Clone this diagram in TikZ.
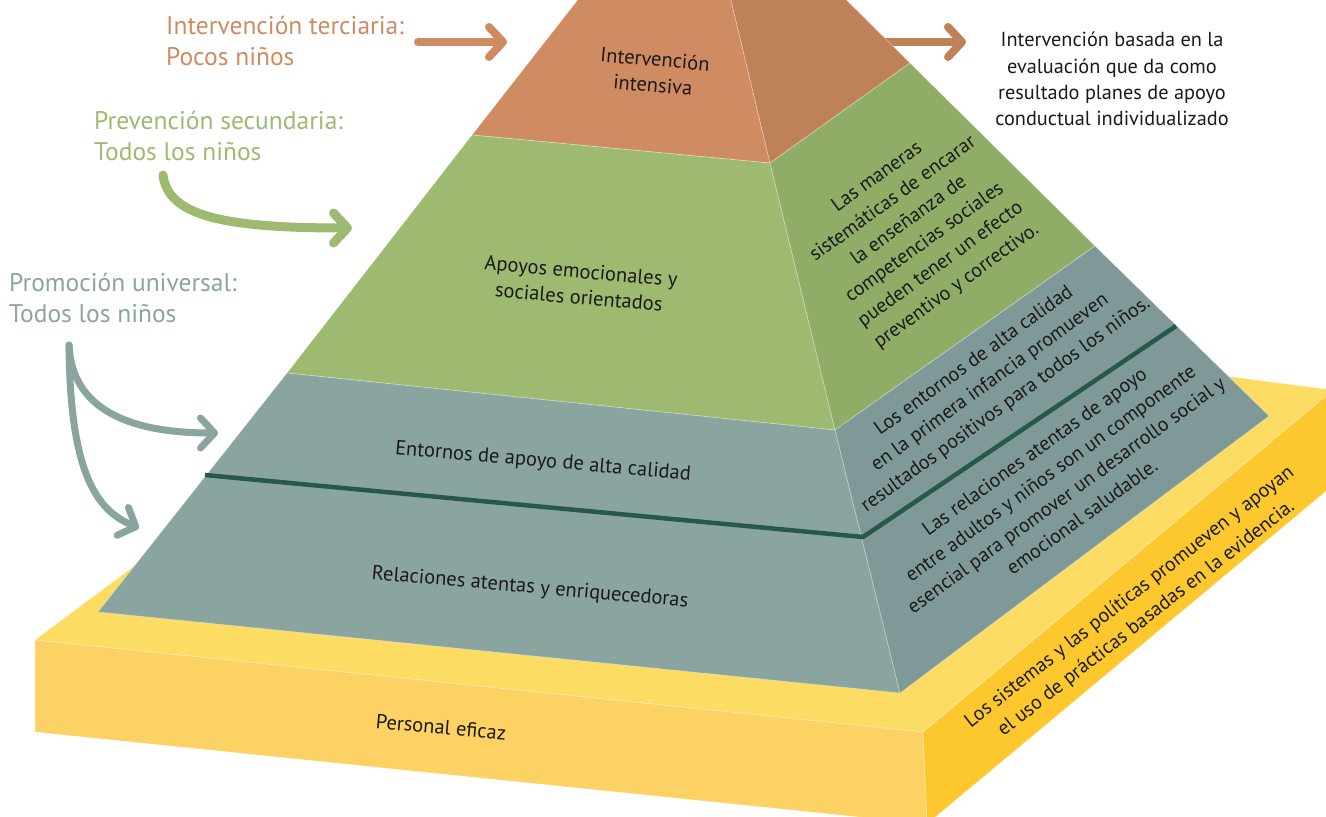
\documentclass[tikz,border=0pt]{standalone}
\usepackage{fontspec}
\setmainfont{PT Sans}
\usetikzlibrary{arrows.meta}

\definecolor{ochre}{HTML}{CF8B62}
\definecolor{ochredark}{HTML}{BF8158}
\definecolor{leaf}{HTML}{9EBA71}
\definecolor{leafdark}{HTML}{90AD67}
\definecolor{sage}{HTML}{8AA4A0}
\definecolor{sagedark}{HTML}{7F9998}
\definecolor{pine}{HTML}{27584A}
\definecolor{sand}{HTML}{FCDC62}
\definecolor{sandfront}{HTML}{FDD265}
\definecolor{sandside}{HTML}{FDC82E}
\definecolor{ink}{HTML}{1A1A1A}

\tikzset{
  face/.style={draw=white, draw opacity=0.35, line width=0.7pt, line join=round},
  curvearrow/.style={line cap=round, -{Straight Barb[length=14pt,width=30pt,round]}},
  tierlabel/.style={font=\fontsize{25.5}{31.5}\selectfont, align=left, anchor=west, inner sep=0pt},
  facetext/.style={font=\fontsize{20.5}{26}\selectfont, text=ink, align=center, inner sep=0pt},
  sidetext/.style={font=\fontsize{20}{27}\selectfont, text=ink, align=center, inner sep=0pt, rotate=36},
}

\begin{document}
\begin{tikzpicture}[x=1pt, y=-1pt]
    \useasboundingbox (0,0) rectangle (1326,817);
    \clip (0,0) rectangle (1326,817);

    % corners of the pyramid
    \coordinate (apex) at (695,-150);
    \coordinate (o1) at (472,135);
    \coordinate (o2) at (770,163);
    \coordinate (o3) at (910,63);
    \coordinate (g1) at (287,373);
    \coordinate (g2) at (835,430);
    \coordinate (g3) at (1095,246);
    \coordinate (t1) at (98,612);
    \coordinate (t2) at (900,693);
    \coordinate (t3) at (1269,416);
    \coordinate (d1) at (205,475);
    \coordinate (d2) at (863,537);
    \coordinate (d3) at (1176,326);

    % corners of the base
    \coordinate (b1) at (35,640);
    \coordinate (b2) at (923,732);
    \coordinate (b3) at (1333,390);
    \coordinate (b4) at (513,283);
    \coordinate (b5) at (35,732);
    \coordinate (b6) at (927,824);
    \coordinate (b7) at (1337,482);

    % arrow ends
    \coordinate (terA) at (418,42);
    \coordinate (terB) at (507,42);
    \coordinate (terC) at (870,42);
    \coordinate (terD) at (966,42);
    \coordinate (secA) at (163,175);
    \coordinate (secB) at (352,228);
    \coordinate (uniA) at (69,345);
    \coordinate (uniB) at (218,433);
    \coordinate (uniC) at (139,528);

    \draw[curvearrow, ochredark, line width=8pt] (terC) -- (terD);

    % base
    \path[face, fill=sand] (b1) -- (b2) -- (b3) -- (b4) -- cycle;
    \path[face, fill=sandfront] (b1) -- (b2) -- (b6) -- (b5) -- cycle;
    \path[face, fill=sandside] (b2) -- (b3) -- (b7) -- (b6) -- cycle;

    % pyramid
    \path[face, fill=ochre] (apex) -- (o1) -- (o2) -- cycle;
    \path[face, fill=ochredark] (apex) -- (o2) -- (o3) -- cycle;
    \path[face, fill=leaf] (o1) -- (g1) -- (g2) -- (o2) -- cycle;
    \path[face, fill=leafdark] (o2) -- (g2) -- (g3) -- (o3) -- cycle;
    \path[face, fill=sage] (g1) -- (t1) -- (t2) -- (g2) -- cycle;
    \path[face, fill=sagedark] (g2) -- (t2) -- (t3) -- (g3) -- cycle;
    \path[draw=pine, line width=4.5pt, line join=round] (d1) -- (d2) -- (d3);

    % arrows
    \draw[curvearrow, ochre, line width=8pt] (terA) -- (terB);
    \draw[curvearrow, leaf, line width=9pt] (secA) .. controls (168,215) and (220,228) .. (secB);
    \draw[curvearrow, sage, line width=7pt] (uniA) .. controls (72,410) and (130,433) .. (uniB);
    \draw[curvearrow, sage, line width=7pt] (uniA) .. controls (70,470) and (95,510) .. (uniC);

    % labels
    \node[tierlabel, text=ochre] (terciaria) at (166,41) {Intervención terciaria:\\Pocos niños};
    \node[tierlabel, text=leaf] (secundaria) at (94,136) {Prevención secundaria:\\Todos los niños};
    \node[tierlabel, text=sage] (universal) at (9,298) {Promoción universal:\\Todos los niños};
    \node[font=\fontsize{20.3}{26.3}\selectfont, text=ink, align=center, inner sep=0pt] (basada) at (1112,79)
        {Intervención basada en la\\evaluación que da como\\resultado planes de apoyo\\conductual individualizado};

    \node[facetext, rotate=-5] (intensiva) at (654,72) {Intervención\\intensiva};
    \node[facetext, rotate=-5] (apoyos) at (580,284) {Apoyos emocionales y\\sociales orientados};
    \node[facetext, rotate=-5] (entornos) at (543,462) {Entornos de apoyo de alta calidad};
    \node[facetext, rotate=-5] (relaciones) at (530,588) {Relaciones atentas y enriquecedoras};
    \node[facetext, rotate=-5] (personal) at (441,727) {Personal eficaz};

    \node[sidetext] (maneras) at (917,232) {Las maneras\\sistemáticas de encarar\\la enseñanza de\\competencias sociales\\pueden tener un efecto\\preventivo y correctivo.};
    \node[sidetext] (calidad) at (990,383) {Los entornos de alta calidad\\en la primera infancia promueven\\resultados positivos para todos los niños.};
    \node[sidetext] (atentas) at (1058,484) {Las relaciones atentas de apoyo\\entre adultos y niños son un componente\\esencial para promover un desarrollo social y\\emocional saludable.};
    \node[sidetext, rotate=2] (sistemas) at (1138,608) {Los sistemas y las políticas promueven y apoyan\\el uso de prácticas basadas en la evidencia.};
\end{tikzpicture}
\end{document}
